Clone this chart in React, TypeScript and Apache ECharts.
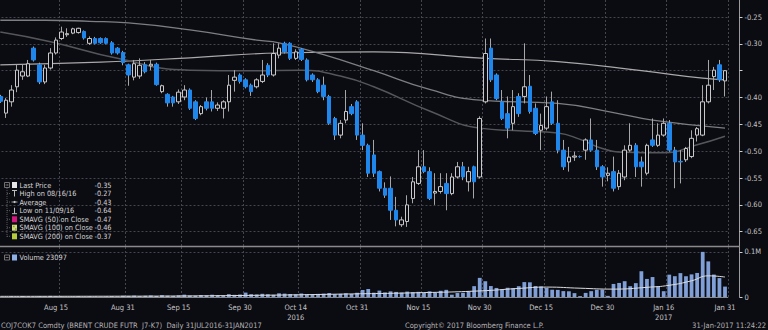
import { useEffect, useRef } from 'react';
import * as echarts from 'echarts';

// ---------- categories ----------
const firstDay = '2016-08-01';
const lastDay = '2017-01-31';
const closedDays = ['2016-09-05'];

const tickDates = ['2016-08-15', '2016-08-31', '2016-09-15', '2016-09-30', '2016-10-14', '2016-10-31',
  '2016-11-15', '2016-11-30', '2016-12-15', '2016-12-30', '2017-01-16', '2017-01-31'];
const tickLabels = ['Aug 15', 'Aug 31', 'Sep 15', 'Sep 30', 'Oct 14\n2016', 'Oct 31',
  'Nov 15', 'Nov 30', 'Dec 15', 'Dec 30', 'Jan 16\n2017', 'Jan 31'];

// ---------- candles [open, close, low, high] ----------
const candlesAug = [
  [-0.398, -0.407, -0.410, -0.395], [-0.429, -0.405, -0.438, -0.401], [-0.408, -0.386, -0.417, -0.377],
  [-0.380, -0.349, -0.390, -0.339], [-0.360, -0.352, -0.367, -0.339], [-0.360, -0.337, -0.362, -0.330],
  [-0.308, -0.330, -0.333, -0.305], [-0.339, -0.371, -0.375, -0.335], [-0.371, -0.345, -0.375, -0.339],
  [-0.345, -0.317, -0.348, -0.308], [-0.317, -0.293, -0.320, -0.288], [-0.290, -0.278, -0.293, -0.268],
  [-0.283, -0.281, -0.287, -0.271], [-0.280, -0.272, -0.282, -0.270], [-0.279, -0.271, -0.281, -0.270],
  [-0.277, -0.289, -0.292, -0.275], [-0.299, -0.290, -0.302, -0.286], [-0.290, -0.299, -0.301, -0.287],
  [-0.290, -0.298, -0.300, -0.288], [-0.290, -0.299, -0.301, -0.288], [-0.298, -0.317, -0.320, -0.295],
  [-0.308, -0.317, -0.320, -0.306], [-0.316, -0.335, -0.340, -0.313],
];
const candlesSep = [
  [-0.339, -0.358, -0.378, -0.337], [-0.362, -0.337, -0.368, -0.330], [-0.360, -0.340, -0.365, -0.327],
  [-0.339, -0.352, -0.355, -0.334], [-0.341, -0.338, -0.349, -0.330], [-0.338, -0.376, -0.378, -0.335],
  [-0.389, -0.378, -0.392, -0.376], [-0.394, -0.410, -0.417, -0.392], [-0.399, -0.410, -0.417, -0.397],
  [-0.408, -0.390, -0.412, -0.385], [-0.399, -0.386, -0.405, -0.377], [-0.386, -0.420, -0.423, -0.383],
  [-0.408, -0.439, -0.442, -0.405], [-0.430, -0.417, -0.433, -0.414], [-0.408, -0.420, -0.424, -0.400],
  [-0.408, -0.420, -0.426, -0.386], [-0.420, -0.414, -0.425, -0.409], [-0.420, -0.408, -0.439, -0.405],
  [-0.408, -0.377, -0.426, -0.358], [-0.368, -0.362, -0.389, -0.349], [-0.358, -0.370, -0.374, -0.355],
];
const candlesOct = [
  [-0.367, -0.380, -0.383, -0.364], [-0.377, -0.389, -0.397, -0.374], [-0.380, -0.367, -0.383, -0.364],
  [-0.370, -0.358, -0.373, -0.330], [-0.340, -0.358, -0.362, -0.336], [-0.358, -0.318, -0.361, -0.299],
  [-0.321, -0.308, -0.327, -0.299], [-0.299, -0.315, -0.318, -0.296], [-0.299, -0.327, -0.330, -0.297],
  [-0.327, -0.315, -0.330, -0.310], [-0.310, -0.329, -0.332, -0.308], [-0.330, -0.367, -0.370, -0.327],
  [-0.358, -0.367, -0.371, -0.355], [-0.367, -0.389, -0.392, -0.364], [-0.377, -0.398, -0.405, -0.361],
  [-0.398, -0.448, -0.451, -0.395], [-0.439, -0.470, -0.479, -0.436], [-0.470, -0.448, -0.476, -0.442],
  [-0.442, -0.426, -0.448, -0.386], [-0.417, -0.430, -0.433, -0.412], [-0.408, -0.470, -0.479, -0.405],
];
const candlesNov = [
  [-0.470, -0.489, -0.498, -0.448], [-0.489, -0.541, -0.548, -0.486], [-0.507, -0.541, -0.548, -0.479],
  [-0.538, -0.569, -0.575, -0.536], [-0.569, -0.582, -0.587, -0.558], [-0.569, -0.610, -0.628, -0.547],
  [-0.610, -0.628, -0.640, -0.585], [-0.637, -0.628, -0.641, -0.622], [-0.631, -0.600, -0.641, -0.582],
  [-0.588, -0.557, -0.597, -0.548], [-0.560, -0.529, -0.563, -0.498], [-0.529, -0.538, -0.541, -0.498],
  [-0.538, -0.588, -0.591, -0.530], [-0.578, -0.575, -0.600, -0.541], [-0.575, -0.566, -0.579, -0.541],
  [-0.560, -0.579, -0.610, -0.541], [-0.579, -0.548, -0.582, -0.541], [-0.548, -0.529, -0.551, -0.520],
  [-0.529, -0.548, -0.554, -0.520], [-0.557, -0.538, -0.575, -0.529], [-0.529, -0.557, -0.588, -0.527],
  [-0.548, -0.439, -0.551, -0.435],
];
const candlesDec = [
  [-0.408, -0.318, -0.411, -0.290], [-0.308, -0.367, -0.371, -0.290], [-0.358, -0.402, -0.405, -0.355],
  [-0.408, -0.439, -0.442, -0.386], [-0.430, -0.457, -0.476, -0.398], [-0.448, -0.417, -0.461, -0.386],
  [-0.398, -0.430, -0.436, -0.392], [-0.398, -0.380, -0.411, -0.299], [-0.379, -0.426, -0.430, -0.358],
  [-0.420, -0.467, -0.470, -0.411], [-0.461, -0.452, -0.498, -0.430], [-0.457, -0.417, -0.461, -0.398],
  [-0.408, -0.448, -0.451, -0.389], [-0.448, -0.498, -0.504, -0.405], [-0.498, -0.529, -0.535, -0.479],
  [-0.520, -0.511, -0.538, -0.492], [-0.511, -0.509, -0.518, -0.501], [-0.510, -0.510, -0.512, -0.508],
  [-0.498, -0.479, -0.516, -0.476], [-0.479, -0.498, -0.501, -0.439], [-0.498, -0.529, -0.535, -0.479],
  [-0.529, -0.548, -0.566, -0.526],
];
const candlesJan = [
  [-0.545, -0.541, -0.556, -0.530], [-0.538, -0.569, -0.575, -0.510], [-0.566, -0.541, -0.572, -0.535],
  [-0.548, -0.498, -0.554, -0.489], [-0.498, -0.489, -0.501, -0.448], [-0.489, -0.529, -0.548, -0.485],
  [-0.520, -0.529, -0.566, -0.510], [-0.541, -0.489, -0.545, -0.486], [-0.479, -0.489, -0.492, -0.439],
  [-0.489, -0.470, -0.492, -0.448], [-0.470, -0.448, -0.473, -0.439], [-0.448, -0.498, -0.501, -0.442],
  [-0.498, -0.520, -0.569, -0.492], [-0.519, -0.520, -0.560, -0.498], [-0.516, -0.495, -0.520, -0.492],
  [-0.510, -0.476, -0.513, -0.461], [-0.470, -0.458, -0.482, -0.455], [-0.470, -0.408, -0.472, -0.377],
  [-0.408, -0.377, -0.411, -0.330], [-0.361, -0.349, -0.386, -0.343], [-0.339, -0.367, -0.371, -0.330],
  [-0.369, -0.350, -0.398, -0.349],
];

// ---------- volume ----------
const volumeAug = [1200, 800, 1500, 1000, 2100, 1300, 900, 1800, 1100, 2400, 1600, 1200, 900, 1400, 2000, 1100, 1700, 1300, 800, 1500, 2200, 1600, 2800];
const volumeSep = [2500, 3100, 1900, 2700, 3400, 2200, 4100, 3000, 2600, 3800, 5200, 3300, 2900, 4400, 3600, 5000, 4200, 3100, 6300, 4800, 5500];
const volumeOct = [9800, 6200, 5400, 7100, 6000, 4800, 8200, 7500, 6600, 5900, 7800, 6300, 5200, 6900, 7400, 8800, 6100, 7000, 8300, 6700, 9400];
const volumeNov = [15600, 17800, 9500, 14200, 10100, 12500, 11300, 9800, 12000, 10700, 11500, 9200, 12600, 10400, 13800, 15900, 5100, 8800, 9300, 12900, 24100, 42500];
const volumeDec = [35000, 24300, 20100, 16400, 20500, 19800, 24000, 33100, 32600, 24200, 23500, 20300, 16200, 15800, 13100, 12700, 8600, 2000, 9100, 13000, 16100, 16400];
const volumeJan = [2500, 29000, 31200, 35100, 24000, 30800, 57200, 40100, 44300, 23800, 12900, 49600, 46200, 53000, 46100, 50200, 53400, 100200, 79100, 49800, 42000, 23097];

// ---------- moving averages [dayIndex, value] ----------
const ma50Points = [[0, -0.278], [9, -0.296], [21, -0.327], [34, -0.349], [45, -0.350], [54, -0.349], [61, -0.360],
  [67, -0.380], [77, -0.425], [86, -0.457], [93, -0.462], [100, -0.466], [104, -0.478], [108, -0.495],
  [112, -0.502], [119, -0.503], [125, -0.488], [130, -0.472]];
const ma100Points = [[0, -0.256], [8, -0.256], [16, -0.258], [23, -0.261], [34, -0.274], [46, -0.293], [50, -0.298],
  [58, -0.320], [67, -0.350], [77, -0.385], [86, -0.405], [100, -0.411], [110, -0.428], [117, -0.442], [130, -0.457]];
const ma200Points = [[0, -0.339], [18, -0.334], [34, -0.326], [50, -0.317], [67, -0.315], [87, -0.327],
  [100, -0.333], [115, -0.350], [126, -0.364], [130, -0.367]];
const volumeMaPoints = [[0, 1500], [22, 1800], [44, 3500], [64, 7000], [75, 9500], [86, 13500], [93, 19000],
  [98, 22000], [104, 19500], [110, 17500], [116, 21500], [120, 26000], [124, 36000], [127, 47000], [130, 44288]];

// ---------- legend texts ----------
const legendLabels = ['Last Price', 'High on 08/16/16', 'Average', 'Low on 11/09/16',
  'SMAVG (50) on Close', 'SMAVG (100) on Close', 'SMAVG (200) on Close'];
const legendValues = ['-0.35', '-0.27', '-0.43', '-0.64', '-0.47', '-0.46', '-0.37'];
const volumeLegend = 'Volume 23097';
const footerLeft = 'COJ7COK7 Comdty (BRENT CRUDE FUTR  J7-K7)  Daily 31JUL2016-31JAN2017';
const footerMid = 'Copyright\u00A9 2017 Bloomberg Finance L.P.';
const footerRight = '31-Jan-2017 11:24:22';

// ---------- styles ----------
const BG = '#0b0b12';
const GRIDC = '#45454e';
const TXT = '#c6c6c6';
const FONT = "'Liberation Sans Narrow', 'DejaVu Sans Condensed', 'Liberation Sans', sans-serif";
const BLUE = '#1f86ec';
const HOLLOW = '#c9c9c9';

function buildDays(): string[] {
  const out: string[] = [];
  const d = new Date(firstDay + 'T00:00:00Z');
  const end = new Date(lastDay + 'T00:00:00Z').getTime();
  while (d.getTime() <= end) {
    const wd = d.getUTCDay();
    const s = d.toISOString().slice(0, 10);
    if (wd !== 0 && wd !== 6 && !closedDays.includes(s)) out.push(s);
    d.setUTCDate(d.getUTCDate() + 1);
  }
  return out;
}

function buildOption() {
  const days = buildDays();
  const candles = [...candlesAug, ...candlesSep, ...candlesOct, ...candlesNov, ...candlesDec, ...candlesJan];
  const volume = [...volumeAug, ...volumeSep, ...volumeOct, ...volumeNov, ...volumeDec, ...volumeJan];
  const bodies = candles.map(([o, c]) => [o, c, Math.min(o, c), Math.max(o, c)]);
  const tickSet = new Set(tickDates);
  const labelOf: Record<string, string> = {};
  tickDates.forEach((d, i) => { labelOf[d] = tickLabels[i]; });
  const gridLineAfter = (idx: number) => idx > 0 && tickSet.has(days[idx - 1]);

  const lastClose = candles[candles.length - 1][1];
  const ma50Last = ma50Points[ma50Points.length - 1][1];
  const ma100Last = ma100Points[ma100Points.length - 1][1];
  const ma200Last = ma200Points[ma200Points.length - 1][1];
  const volLast = volume[volume.length - 1];
  const volMaLast = volumeMaPoints[volumeMaPoints.length - 1][1];

  const tag = (bg: string, fg: string) => ({
    backgroundColor: bg, color: fg, fontSize: 7, lineHeight: 7, fontFamily: FONT, padding: [0.5, 3, 0, 3], borderRadius: 1,
  });

  const gridL = -2.5;
  const gridR = 40.2;
  const axisOff = 11.7;

  const splitX = { show: true, interval: gridLineAfter, lineStyle: { color: GRIDC, type: [2, 2] as any, width: 1 } };

  const LF = `7.3px ${FONT}`;
  const legendRowY = [185, 193.5, 202, 210.7, 219.3, 227.7, 236.3];
  const graphics: any[] = [];
  // tree
  graphics.push({ type: 'rect', shape: { x: 4.5, y: 182.5, width: 5, height: 5 }, style: { fill: 'none', stroke: '#8c8c8c', lineWidth: 0.8 }, z: 20 });
  graphics.push({ type: 'line', shape: { x1: 5.5, y1: 185, x2: 8.5, y2: 185 }, style: { stroke: '#8c8c8c', lineWidth: 0.8 }, z: 20 });
  graphics.push({ type: 'line', shape: { x1: 7, y1: 188, x2: 7, y2: 237 }, style: { stroke: '#6c6c6c', lineWidth: 0.8, lineDash: [1, 1] }, z: 20 });
  legendRowY.forEach((y, i) => {
    graphics.push({ type: 'line', shape: { x1: 7, y1: y, x2: 11, y2: y }, style: { stroke: '#6c6c6c', lineWidth: 0.8, lineDash: [1, 1] }, z: 20 });
    graphics.push({ type: 'text', x: 19.5, y, style: { text: legendLabels[i], fill: '#d6d6d6', font: LF, textVerticalAlign: 'middle' }, z: 20 });
    graphics.push({ type: 'text', x: 111.5, y, style: { text: legendValues[i], fill: '#d6d6d6', font: LF, textAlign: 'right', textVerticalAlign: 'middle' }, z: 20 });
  });
  const iconRect = (y: number, fill: string) => ({ type: 'rect', shape: { x: 12, y: y - 3, width: 5, height: 6 }, style: { fill }, z: 20 });
  graphics.push(iconRect(legendRowY[0], '#e6e6e6'));
  graphics.push({ type: 'line', shape: { x1: 12, y1: legendRowY[1] - 3, x2: 17, y2: legendRowY[1] - 3 }, style: { stroke: '#bdbdbd', lineWidth: 1 }, z: 20 });
  graphics.push({ type: 'line', shape: { x1: 14.5, y1: legendRowY[1] - 3, x2: 14.5, y2: legendRowY[1] + 3 }, style: { stroke: '#bdbdbd', lineWidth: 1 }, z: 20 });
  graphics.push({ type: 'line', shape: { x1: 11.5, y1: legendRowY[2], x2: 17.5, y2: legendRowY[2] }, style: { stroke: '#9a9a9a', lineWidth: 1 }, z: 20 });
  graphics.push({ type: 'circle', shape: { cx: 14.5, cy: legendRowY[2], r: 1 }, style: { fill: '#cfcfcf' }, z: 20 });
  graphics.push({ type: 'line', shape: { x1: 14.5, y1: legendRowY[3] - 3, x2: 14.5, y2: legendRowY[3] + 3 }, style: { stroke: '#bdbdbd', lineWidth: 1 }, z: 20 });
  graphics.push({ type: 'line', shape: { x1: 12, y1: legendRowY[3] + 3, x2: 17, y2: legendRowY[3] + 3 }, style: { stroke: '#bdbdbd', lineWidth: 1 }, z: 20 });
  graphics.push(iconRect(legendRowY[4], '#d4177f'));
  graphics.push(iconRect(legendRowY[5], '#cfdb7c'));
  graphics.push({ type: 'rect', shape: { x: 13, y: legendRowY[5] - 2, width: 1.5, height: 1.5 }, style: { fill: '#8c9a2c' }, z: 21 });
  graphics.push({ type: 'rect', shape: { x: 15, y: legendRowY[5] + 0.5, width: 1.5, height: 1.5 }, style: { fill: '#8c9a2c' }, z: 21 });
  graphics.push(iconRect(legendRowY[6], '#b6cc3c'));
  // volume legend
  graphics.push({ type: 'rect', shape: { x: 4.5, y: 255, width: 5, height: 5 }, style: { fill: 'none', stroke: '#8c8c8c', lineWidth: 0.8 }, z: 20 });
  graphics.push({ type: 'line', shape: { x1: 5.5, y1: 257.5, x2: 8.5, y2: 257.5 }, style: { stroke: '#8c8c8c', lineWidth: 0.8 }, z: 20 });
  graphics.push({ type: 'rect', shape: { x: 12, y: 254.5, width: 5, height: 6 }, style: { fill: '#8fb0e4' }, z: 20 });
  graphics.push({ type: 'text', x: 19.5, y: 257.7, style: { text: volumeLegend, fill: '#d6d6d6', font: LF, textVerticalAlign: 'middle' }, z: 20 });
  // panel separator
  graphics.push({ type: 'line', shape: { x1: 0, y1: 246.5, x2: 740, y2: 246.5 }, style: { stroke: '#8a8a8a', lineWidth: 1.5 }, z: 15 });
  // footer
  graphics.push({ type: 'text', x: 1, y: 325.5, style: { text: footerLeft, fill: '#b4b4b4', font: `7.5px ${FONT}`, textVerticalAlign: 'middle' }, z: 20 });
  graphics.push({ type: 'text', x: 405, y: 325.5, style: { text: footerMid, fill: '#b4b4b4', font: `7.5px ${FONT}`, textVerticalAlign: 'middle' }, z: 20 });
  graphics.push({ type: 'text', x: 766, y: 325.5, style: { text: footerRight, fill: '#b4b4b4', font: `7.5px ${FONT}`, textAlign: 'right', textVerticalAlign: 'middle' }, z: 20 });

  // the last-price tag sits on top of the -0.35 tick label, as in the reference
  const hiddenTick = lastClose.toFixed(2);

  return {
    animation: false,
    backgroundColor: BG,
    textStyle: { fontFamily: FONT },
    grid: [
      { left: gridL, right: gridR, top: 0, height: 246, outerBoundsMode: 'none', containLabel: false },
      { left: gridL, right: gridR, top: 247, height: 50, outerBoundsMode: 'none', containLabel: false },
    ],
    xAxis: [
      {
        type: 'category', gridIndex: 0, data: days, boundaryGap: true,
        axisLine: { show: false }, axisTick: { show: false }, axisLabel: { show: false },
        splitLine: splitX,
      },
      {
        type: 'category', gridIndex: 1, data: days, boundaryGap: true,
        axisLine: { show: true, lineStyle: { color: '#8a8a8a' } }, axisTick: { show: false },
        axisLabel: {
          show: true, interval: (idx: number, v: string) => tickSet.has(v),
          formatter: (v: string) => labelOf[v] || '', color: TXT, fontSize: 7.5, fontFamily: FONT,
          margin: 5, lineHeight: 10,
        },
        splitLine: splitX,
      },
    ],
    yAxis: [
      {
        type: 'value', gridIndex: 0, position: 'right', offset: axisOff, scale: true,
        min: -0.6766, max: -0.2183, splitNumber: 9,
        axisLine: { show: true, lineStyle: { color: '#9a9a9a' } },
        axisTick: { show: true, length: 3, lineStyle: { color: '#d0d0d0' } },
        axisLabel: {
          color: TXT, fontSize: 7.5, fontFamily: FONT, margin: 5, showMinLabel: false, showMaxLabel: false,
          formatter: (v: number) => (v.toFixed(2) === hiddenTick ? '' : v.toFixed(2)),
        },
        splitLine: { show: true, showMinLine: false, showMaxLine: false, lineStyle: { color: GRIDC, type: [2, 2] } },
      },
      {
        type: 'value', gridIndex: 1, position: 'right', offset: axisOff,
        min: 0, max: 111000, interval: 100000,
        axisLine: { show: true, lineStyle: { color: '#9a9a9a' } },
        axisTick: { show: true, length: 3, lineStyle: { color: '#d0d0d0' } },
        axisLabel: {
          color: TXT, fontSize: 7.5, fontFamily: FONT, margin: 5, showMaxLabel: false,
          formatter: (v: number) => (v === 0 ? '0' : (v / 1e6).toFixed(1) + 'M'),
        },
        splitLine: { show: true, showMaxLine: false, lineStyle: { color: GRIDC, type: [2, 2] } },
      },
    ],
    series: [
      {
        name: 'SMAVG (200)', type: 'line', xAxisIndex: 0, yAxisIndex: 0, data: ma200Points, smooth: true,
        showSymbol: false, z: 1, lineStyle: { color: '#a9a9a9', width: 1.2 },
      },
      {
        name: 'SMAVG (100)', type: 'line', xAxisIndex: 0, yAxisIndex: 0, data: ma100Points, smooth: true,
        showSymbol: false, z: 1, lineStyle: { color: '#7d7d84', width: 1.3 },
      },
      {
        name: 'SMAVG (50)', type: 'line', xAxisIndex: 0, yAxisIndex: 0, data: ma50Points, smooth: true,
        showSymbol: false, z: 1, lineStyle: { color: '#55555c', width: 1.5 },
      },
      {
        name: 'wicks', type: 'candlestick', xAxisIndex: 0, yAxisIndex: 0, data: candles, barWidth: 1, z: 2,
        itemStyle: { color: '#a6a6a6', color0: '#a6a6a6', borderColor: '#a6a6a6', borderColor0: '#a6a6a6', borderWidth: 1 },
      },
      {
        name: 'Last Price', type: 'candlestick', xAxisIndex: 0, yAxisIndex: 0, data: bodies, barWidth: 4, z: 3,
        itemStyle: { color: BG, color0: BLUE, borderColor: HOLLOW, borderColor0: BLUE, borderWidth: 1 },
        markLine: {
          silent: true, symbol: 'none', animation: false, lineStyle: { opacity: 0 },
          label: { position: 'end', distance: 13 },
          data: [
            { yAxis: ma200Last, label: { formatter: ma200Last.toFixed(2), ...tag('#b3c93a', '#1a1a1a') } },
            { yAxis: lastClose, label: { formatter: lastClose.toFixed(2), ...tag('#d9d9d9', '#1a1a1a') } },
            { yAxis: ma100Last, label: { formatter: ma100Last.toFixed(2), ...tag('#cdd97a', '#3a3a10') } },
            { yAxis: ma50Last, label: { formatter: ma50Last.toFixed(2), ...tag('#d3167e', '#f4f4f4') } },
          ],
        },
      },
      {
        name: 'Volume', type: 'bar', xAxisIndex: 1, yAxisIndex: 1, data: volume, barWidth: '68%', z: 2,
        itemStyle: { color: '#7f9fd6' },
        markLine: {
          silent: true, symbol: 'none', animation: false, lineStyle: { opacity: 0 },
          label: { position: 'end', distance: 13 },
          data: [
            { yAxis: volMaLast, label: { formatter: String(volMaLast), ...tag('#e4e4e4', '#1a1a1a') } },
            { yAxis: volLast, label: { formatter: String(volLast), ...tag('#9db8e6', '#15254a') } },
          ],
        },
      },
      {
        name: 'Volume avg', type: 'line', xAxisIndex: 1, yAxisIndex: 1, data: volumeMaPoints, smooth: true,
        showSymbol: false, z: 3, lineStyle: { color: '#dcdcdc', width: 1 },
      },
    ],
    graphic: graphics,
  };
}

export default function App() {
  const ref = useRef<HTMLDivElement>(null);
  useEffect(() => {
    const el = ref.current;
    if (!el) return;
    const chart = echarts.init(el, null, { renderer: 'svg' });
    chart.setOption(buildOption() as any);
    return () => chart.dispose();
  }, []);
  return (
    <div
      ref={ref}
      style={{ position: 'fixed', left: 0, top: 0, width: 768, height: 330, background: BG }}
    />
  );
}
